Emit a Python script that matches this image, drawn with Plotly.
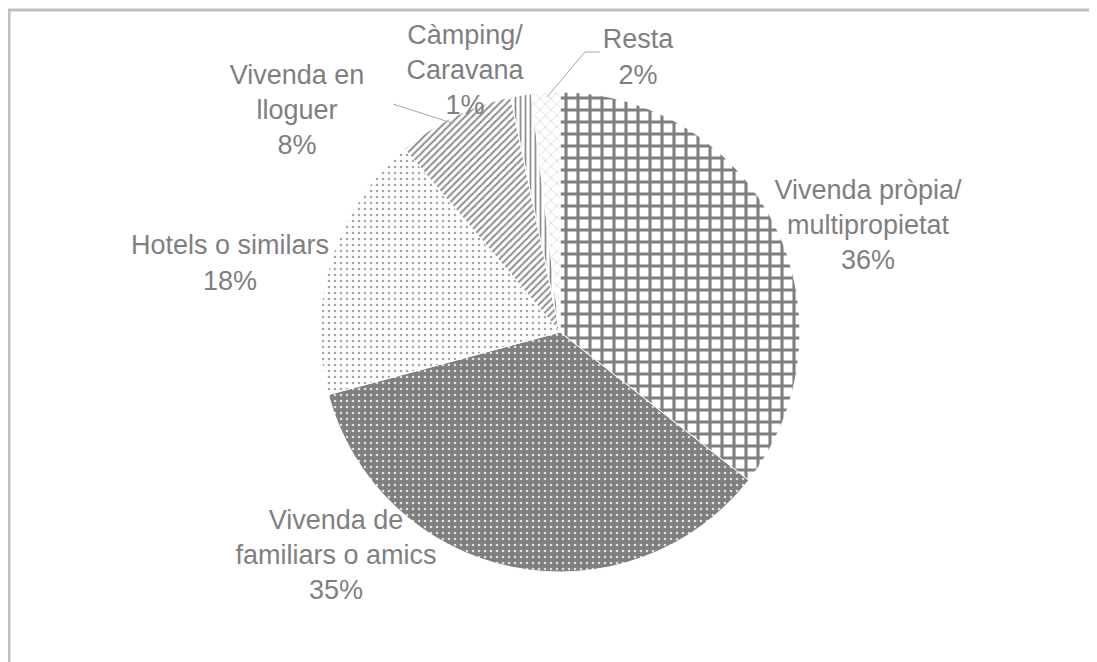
"""
Allotjament: pie chart with Excel-style hatch patterns
"""

import plotly.graph_objects as go

W, H = 1097, 662
OFF = 8  # page body margin shifts the figure by 8px

# Data
labels = ['Vivenda pròpia/<br>multipropietat', 'Vivenda de<br>familiars o amics', 'Hotels o similars',
          'Vivenda en<br>lloguer', 'Càmping/<br>Caravana', 'Resta']
values = [35.6, 35.2, 18.0, 7.9, 1.4, 1.9]

# Label placement (pixel centres in the picture), Excel style
label_pos = [(868, 222), (336, 552), (230, 260), (297, 107), (465, 67), (638, 54)]

GREY = '#7f7f7f'
TEXT = '#7f7f7f'
FONT = 'Liberation Sans, Arial, sans-serif'


def px(x, y):
    """picture pixel coords -> paper coords (margins are zero)"""
    return (x - OFF) / W, 1 - (y - OFF) / H


total = sum(values)
pcts = [round(v / total * 100) for v in values]

cx, cy, half = 560, 332, 240
x0, y0 = px(cx - half, cy + half)
x1, y1 = px(cx + half, cy - half)

fig = go.Figure(go.Pie(
    labels=labels,
    values=values,
    sort=False,
    direction='clockwise',
    rotation=0,
    textinfo='none',
    hovertemplate='%{label}<br>%{percent}<extra></extra>',
    marker=dict(
        colors=['white', GREY, 'white', 'white', 'white', 'white'],
        line=dict(color='white', width=1),
        pattern=dict(
            shape=['+', '.', '.', '/', '|', 'x'],
            fgcolor=[GREY, '#e0e0e0', '#a6a6a6', '#8c8c8c', '#8c8c8c', '#b0b0b0'],
            bgcolor=['white', GREY, 'white', 'white', 'white', 'white'],
            size=[12, 6, 6, 5, 5, 8],
            solidity=[0.45, 0.15, 0.15, 0.4, 0.35, 0.1],
        ),
    ),
    domain=dict(x=[x0, x1], y=[y0, y1]),
    showlegend=False,
))

shapes = []

# Data labels: drawn as labels of invisible shapes so they sit above the pie
for lab, pct, (lx, ly) in zip(labels, pcts, label_pos):
    a, b = px(lx - 120, ly + 60)
    c, d = px(lx + 120, ly - 60)
    shapes.append(dict(
        type='rect', xref='paper', yref='paper', x0=a, y0=b, x1=c, y1=d,
        line=dict(width=0), fillcolor='rgba(0,0,0,0)', layer='above',
        label=dict(text=f'{lab}<br>{pct}%', textposition='middle center', padding=0,
                   font=dict(size=27, color=TEXT, family=FONT)),
    ))

# Leader lines + chart frame
for (ax, ay), (bx, by) in [((393, 104), (452, 123)), ((585, 52), (600, 52)), ((585, 52), (547, 97))]:
    a, b = px(ax, ay)
    c, d = px(bx, by)
    shapes.append(dict(type='line', xref='paper', yref='paper', x0=a, y0=b, x1=c, y1=d,
                       line=dict(color='#a6a6a6', width=1)))
a, b = px(9, 10)
shapes.append(dict(type='line', xref='paper', yref='paper', x0=a, y0=0, x1=a, y1=b,
                   line=dict(color='#bfbfbf', width=3)))
shapes.append(dict(type='line', xref='paper', yref='paper', x0=a - 0.001, y0=b, x1=1, y1=b,
                   line=dict(color='#bfbfbf', width=3)))

fig.update_layout(
    width=W,
    height=H,
    margin=dict(l=0, r=0, t=0, b=0),
    paper_bgcolor='white',
    plot_bgcolor='white',
    font=dict(family=FONT, color=TEXT),
    shapes=shapes,
)

fig.write_html("out.html")
